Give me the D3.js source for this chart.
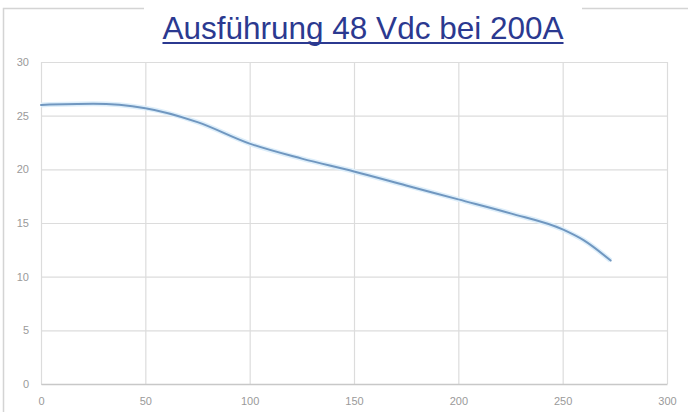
<!DOCTYPE html>
<html>
<head>
<meta charset="utf-8">
<script src="https://cdn.jsdelivr.net/npm/d3@7"></script>
<style>
  html, body { margin: 0; padding: 0; background: #fff; }
  svg { display: block; }
</style>
</head>
<body>
<div id="container"></div>
<script>
"use strict";

const title = "Ausführung 48 Vdc bei 200A";
const xTicks = [0, 50, 100, 150, 200, 250, 300];
const yTicks = [0, 5, 10, 15, 20, 25, 30];
// Curve.
const xValues = [0, 25, 50, 75, 100, 125, 150, 175, 200, 225, 250, 260, 273];
const yValues = [26.0, 26.1, 25.7, 24.4, 22.4, 21.0, 19.8, 18.5, 17.2, 15.9, 14.4, 13.4, 11.5];

const width = 688;
const height = 412;
const margin = { top: 62, right: 21, bottom: 28, left: 41 };

const svg = d3.create("svg").attr("width", width).attr("height", height);
d3.select("#container").append(() => svg.node());

const x = d3.scaleLinear().domain([0, 300]).range([margin.left, width - margin.right]);
const y = d3.scaleLinear().domain([0, 30]).range([height - margin.bottom, margin.top]);

// Outer frame (partly hidden behind the title box).
svg.append("path")
  .attr("d", `M3.5,${height} V8.5 H${width}`)
  .attr("fill", "none")
  .attr("stroke", "#d4d4d4")
  .attr("stroke-width", 1.5);

// Horizontal grid.
svg.append("g")
  .attr("transform", `translate(${margin.left}, 0)`)
  .call(d3.axisLeft(y).tickValues(yTicks).tickSize(-(width - margin.left - margin.right)).tickFormat(""))
  .call((g) => g.select(".domain").remove())
  .selectAll("line")
  .attr("stroke", "#dcdcdc")
  .attr("stroke-width", 1.2);

// Vertical grid.
svg.append("g")
  .attr("transform", `translate(0, ${height - margin.bottom})`)
  .call(d3.axisBottom(x).tickValues(xTicks).tickSize(-(height - margin.top - margin.bottom)).tickFormat(""))
  .call((g) => g.select(".domain").remove())
  .selectAll("line")
  .attr("stroke", "#dcdcdc")
  .attr("stroke-width", 1.2);

// Y labels.
svg.append("g")
  .attr("transform", `translate(${margin.left - 12}, 0)`)
  .call(d3.axisLeft(y).tickValues(yTicks).tickSize(0).tickPadding(0))
  .call((g) => g.select(".domain").remove())
  .selectAll("text")
  .attr("fill", "#9a9a9a")
  .style("font-family", "'Liberation Sans', Arial, sans-serif")
  .style("font-size", "11px");

// X axis line and labels.
svg.append("g")
  .attr("transform", `translate(0, ${height - margin.bottom})`)
  .call(d3.axisBottom(x).tickValues(xTicks).tickSize(0).tickPadding(13))
  .call((g) => g.select(".domain").attr("stroke", "#c8c8c8").attr("stroke-width", 1.5))
  .selectAll("text")
  .attr("fill", "#9a9a9a")
  .style("font-family", "'Liberation Sans', Arial, sans-serif")
  .style("font-size", "11px");

// Curve.
const points = xValues.map((v, i) => [v, yValues[i]]);
const line = d3.line()
  .x((d) => x(d[0]))
  .y((d) => y(d[1]))
  .curve(d3.curveMonotoneX);

svg.append("path")
  .datum(points)
  .attr("fill", "none")
  .attr("stroke", "#ddeefa")
  .attr("stroke-width", 5)
  .attr("d", line);

svg.append("path")
  .datum(points)
  .attr("fill", "none")
  .attr("stroke", "#7097c0")
  .attr("stroke-width", 2)
  .attr("stroke-linecap", "round")
  .attr("d", line);

// Title box with underlined title.
svg.append("rect")
  .attr("x", 144).attr("y", 0)
  .attr("width", 438).attr("height", 52)
  .attr("fill", "#fff");

const titleText = svg.append("text")
  .attr("x", 363)
  .attr("y", 39)
  .attr("text-anchor", "middle")
  .attr("fill", "#2b3990")
  .style("font-family", "'Liberation Sans', Arial, sans-serif")
  .style("font-size", "31.5px")
  .text(title);

const bb = titleText.node().getBBox();
svg.append("line")
  .attr("x1", bb.x).attr("x2", bb.x + bb.width)
  .attr("y1", 43).attr("y2", 43)
  .attr("stroke", "#2b3990")
  .attr("stroke-width", 2);
</script>
</body>
</html>
